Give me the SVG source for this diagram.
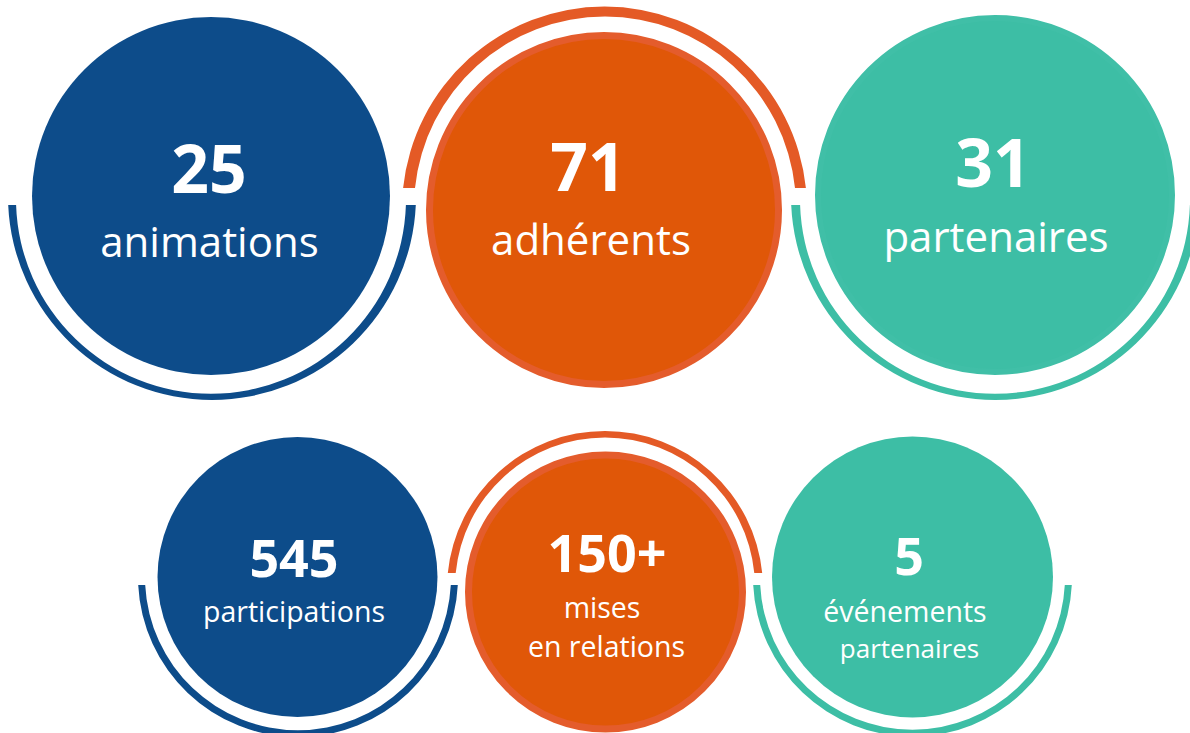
<svg xmlns="http://www.w3.org/2000/svg" width="1190" height="733" viewBox="0 0 1190 733">
  <style>
    .num { font-family: "Open Sans", "DejaVu Sans", sans-serif; font-weight: 700; fill: #FFFFFF; text-anchor: middle; }
    .lbl { font-family: "Open Sans", "DejaVu Sans", sans-serif; font-weight: 400; fill: #FFFFFF; text-anchor: middle; }
    .blue { fill: #0D4C8A; }
    .orange { fill: #E05708; }
    .teal { fill: #3DBEA5; }
    .blue-ring { fill: #0D4C8A; }
    .orange-ring { fill: #E45A26; }
    .teal-ring { fill: #3DBEA5; }
    .orange-edge { stroke: #E45C2C; stroke-width: 7; }
    .teal-edge { stroke: #40BFA7; stroke-width: 6; }
  </style>
  <rect width="1190" height="733" fill="#FFFFFF"/>
  <g id="arcs">
    <path class="blue-ring" d="M 8.2 205 A 204 204 0 0 0 415.8 205 L 405.9 205 A 195 195 0 0 1 16.1 205 Z"/>
    <path class="orange-ring" d="M 403.1 188 A 202.5 202.5 0 0 1 805.9 188 L 795 188 A 191 191 0 0 0 415 188 Z"/>
    <path class="teal-ring" d="M 791.2 205 A 204 204 0 0 0 1198.8 205 L 1189.9 205 A 195 195 0 0 1 800.1 205 Z"/>
    <path class="blue-ring" d="M 138.2 585 A 160 160 0 0 0 457.8 585 L 450.8 585 A 153 153 0 0 1 145.2 585 Z"/>
    <path class="orange-ring" d="M 447.8 573 A 158 158 0 0 1 762.2 573 L 754.3 573 A 150 150 0 0 0 455.7 573 Z"/>
    <path class="teal-ring" d="M 753.2 585 A 159.5 159.5 0 0 0 1071.8 585 L 1064.8 585 A 152.5 152.5 0 0 1 760.2 585 Z"/>
  </g>
  <g id="node-animations">
    <circle class="blue" cx="211" cy="196" r="179"/>
    <text class="num" x="209" y="193" font-size="66">25</text>
    <text class="lbl" x="209.5" y="257" font-size="42">animations</text>
  </g>
  <g id="node-adherents">
    <circle class="orange orange-edge" cx="604" cy="210" r="174.5"/>
    <text class="num" x="588" y="191" font-size="66">71</text>
    <text class="lbl" x="591" y="255" font-size="42">adhérents</text>
  </g>
  <g id="node-partenaires">
    <circle class="teal teal-edge" cx="995" cy="195" r="177"/>
    <text class="num" x="993" y="187" font-size="66">31</text>
    <text class="lbl" x="996" y="252" font-size="42">partenaires</text>
  </g>
  <g id="node-participations">
    <circle class="blue" cx="297.5" cy="577" r="140"/>
    <text class="num" x="294" y="577" font-size="52">545</text>
    <text class="lbl" x="294" y="622" font-size="28.5">participations</text>
  </g>
  <g id="node-relations">
    <circle class="orange orange-edge" cx="605.5" cy="592" r="137"/>
    <text class="num" x="607" y="572" font-size="52">150+</text>
    <text class="lbl" x="602" y="618" font-size="28.5">mises</text>
    <text class="lbl" x="606.5" y="657" font-size="28.5">en relations</text>
  </g>
  <g id="node-evenements">
    <circle class="teal" cx="912.5" cy="577" r="140.5"/>
    <text class="num" x="909" y="575" font-size="52">5</text>
    <text class="lbl" x="905" y="622" font-size="28.5">événements</text>
    <text class="lbl" x="909.5" y="658" font-size="26">partenaires</text>
  </g>
</svg>
